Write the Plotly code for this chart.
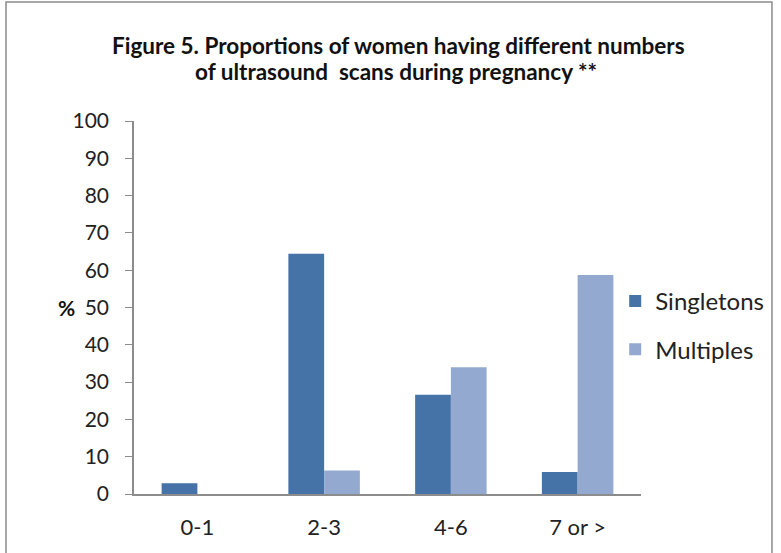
import plotly.graph_objects as go

categories = ["0-1", "2-3", "4-6", "7 or >"]
singletons = [2.9, 64.4, 26.6, 5.9]
multiples = [0, 6.3, 34.0, 58.7]
y_ticks = [0, 10, 20, 30, 40, 50, 60, 70, 80, 90, 100]
title_lines = ["Figure 5. Proportions of women having different numbers",
               "of ultrasound  scans during pregnancy **"]

FONT = "Lato"
W, H = 781, 553
L, R, T, B = 134, 136, 121, 59
pw = W - L - R
ph = H - T - B


def px_x(x):
    return (x - L) / pw


def px_y(y):
    return (H - B - y) / ph


fig = go.Figure()
fig.add_trace(go.Bar(x=categories, y=singletons, name="Singletons",
                     marker=dict(color="#4572A7", line=dict(width=0)),
                     legendgroup="a"))
fig.add_trace(go.Bar(x=categories, y=multiples, name="Multiples",
                     marker=dict(color="#93A9CF", line=dict(width=0)),
                     legendgroup="b"))

annotations = [
    dict(text="<b>%s</b>" % title_lines[0], x=px_x(401), y=px_y(45),
         xref="paper", yref="paper", xanchor="center", yanchor="middle",
         showarrow=False, font=dict(size=22.5, family=FONT, color="#111111")),
    dict(text="<b>%s</b>" % title_lines[1], x=px_x(398), y=px_y(72),
         xref="paper", yref="paper", xanchor="center", yanchor="middle",
         showarrow=False, font=dict(size=22.5, family=FONT, color="#111111")),
    dict(text="<b>%</b>", x=px_x(55), y=px_y(307), xref="paper", yref="paper",
         showarrow=False, font=dict(size=21, family=FONT, color="#111111")),
]

fig.update_layout(
    width=W, height=H,
    margin=dict(l=L, r=R, t=T, b=B),
    paper_bgcolor="white", plot_bgcolor="white",
    barmode="group", bargap=0.436, bargroupgap=0,
    font=dict(family=FONT, color="#222222", size=18),
    xaxis=dict(
        showline=True, linecolor="#8c8c8c", linewidth=1.5,
        ticks="", tickfont=dict(size=22, family=FONT, color="#222222"),
        ticklabelstandoff=13, showgrid=False, zeroline=False, fixedrange=True,
    ),
    yaxis=dict(
        range=[0, 100], tickvals=y_ticks, showline=True, linecolor="#8c8c8c",
        linewidth=1.5, ticks="outside", ticklen=7, tickcolor="#8c8c8c",
        tickfont=dict(size=21, family=FONT, color="#222222"),
        showgrid=False, zeroline=False, ticklabelstandoff=12,
    ),
    legend=dict(
        x=px_x(619), y=px_y(279), xanchor="left", yanchor="top",
        font=dict(size=24, family=FONT, color="#222222"),
        tracegroupgap=14, itemwidth=30, bgcolor="rgba(0,0,0,0)",
    ),
    showlegend=True,
    annotations=annotations,
    shapes=[dict(
        type="rect", xref="paper", yref="paper",
        x0=px_x(5), x1=px_x(777), y0=px_y(600), y1=px_y(2),
        line=dict(color="#8c8c8c", width=1.5), fillcolor="rgba(0,0,0,0)",
        layer="below",
    )],
)

fig.write_html("out.html", config={"displayModeBar": False},
               post_script="document.body.style.margin='0px';")
